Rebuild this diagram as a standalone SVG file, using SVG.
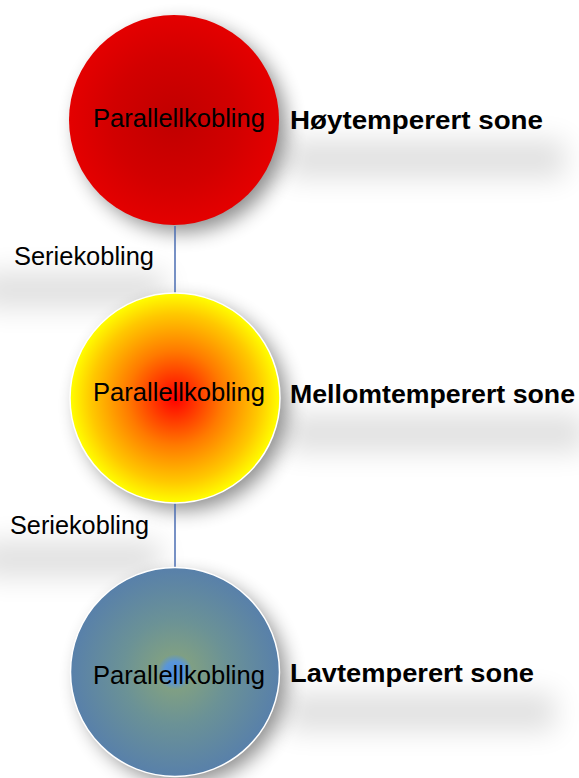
<svg xmlns="http://www.w3.org/2000/svg" width="579" height="778" viewBox="0 0 579 778">
<defs>
<filter id="blur" x="-50%" y="-50%" width="200%" height="200%"><feGaussianBlur stdDeviation="10"/></filter>
<filter id="blur2" x="-50%" y="-150%" width="200%" height="400%"><feGaussianBlur stdDeviation="14"/></filter>
<radialGradient id="gRed" cx="50%" cy="50%" r="50%">
<stop offset="0" stop-color="#c00000"/>
<stop offset="0.6" stop-color="#d20000"/>
<stop offset="1" stop-color="#e40000"/>
</radialGradient>
<radialGradient id="gYel" cx="50%" cy="50%" r="50%">
<stop offset="0" stop-color="#ff0000"/>
<stop offset="0.45" stop-color="#ff7a00"/>
<stop offset="0.8" stop-color="#ffc800"/>
<stop offset="1" stop-color="#ffff00"/>
</radialGradient>
<radialGradient id="gBlue" cx="50%" cy="50%" r="50%">
<stop offset="0" stop-color="#4f8fe0"/>
<stop offset="0.1" stop-color="#5a96d8"/>
<stop offset="0.17" stop-color="#7f9f84"/>
<stop offset="0.5" stop-color="#6b9296"/>
<stop offset="1" stop-color="#5880aa"/>
</radialGradient>
</defs>
<style>
.inner{font-family:"Liberation Sans",Arial,sans-serif;font-size:25px;fill:#000}
.zone{font-family:"Liberation Sans",Arial,sans-serif;font-size:26px;font-weight:bold;fill:#000}
.ser{font-family:"Liberation Sans",Arial,sans-serif;font-size:25px;fill:#000}
.conn{stroke:#4a6db2;stroke-width:1.5}
.shadow{fill:#000;opacity:0.45;filter:url(#blur)}
.lshadow{fill:#000;opacity:0.12;filter:url(#blur2)}
</style>
<rect width="579" height="778" fill="#fff"/>
<g id="shadows">
<rect x="285" y="140" width="280" height="38" class="lshadow"/>
<rect x="285" y="414" width="300" height="38" class="lshadow"/>
<rect x="285" y="693" width="270" height="38" class="lshadow"/>
<rect x="-20" y="272" width="185" height="36" class="lshadow"/>
<rect x="-20" y="541" width="180" height="36" class="lshadow"/>
<circle cx="182" cy="128" r="104" class="shadow"/>
<circle cx="183" cy="406" r="104" class="shadow"/>
<circle cx="183" cy="680" r="103" class="shadow"/>
</g>
<g id="connectors">
<line x1="175" y1="226" x2="175" y2="293" class="conn"/>
<line x1="175" y1="503" x2="175" y2="568" class="conn"/>
</g>
<g id="node-high">
<circle cx="174" cy="120" r="105" fill="url(#gRed)"/>
<text x="93" y="127" class="inner" textLength="172" lengthAdjust="spacingAndGlyphs">Parallellkobling</text>
</g>
<g id="node-mid">
<circle cx="175" cy="398" r="105" fill="url(#gYel)" stroke="#fff" stroke-width="1.5"/>
<text x="93" y="401" class="inner" textLength="172" lengthAdjust="spacingAndGlyphs">Parallellkobling</text>
</g>
<g id="node-low">
<circle cx="175" cy="672" r="104.5" fill="url(#gBlue)" stroke="#fff" stroke-width="1.5"/>
<text x="93" y="684" class="inner" textLength="172" lengthAdjust="spacingAndGlyphs">Parallellkobling</text>
</g>
<g id="label-high"><text x="290" y="129" class="zone" textLength="253" lengthAdjust="spacingAndGlyphs">Høytemperert sone</text></g>
<g id="label-mid"><text x="290" y="403" class="zone" textLength="285" lengthAdjust="spacingAndGlyphs">Mellomtemperert sone</text></g>
<g id="label-low"><text x="290" y="682" class="zone" textLength="244" lengthAdjust="spacingAndGlyphs">Lavtemperert sone</text></g>
<g id="label-ser1"><text x="14" y="265" class="ser" textLength="140" lengthAdjust="spacingAndGlyphs">Seriekobling</text></g>
<g id="label-ser2"><text x="10" y="534" class="ser" textLength="139" lengthAdjust="spacingAndGlyphs">Seriekobling</text></g>
</svg>
